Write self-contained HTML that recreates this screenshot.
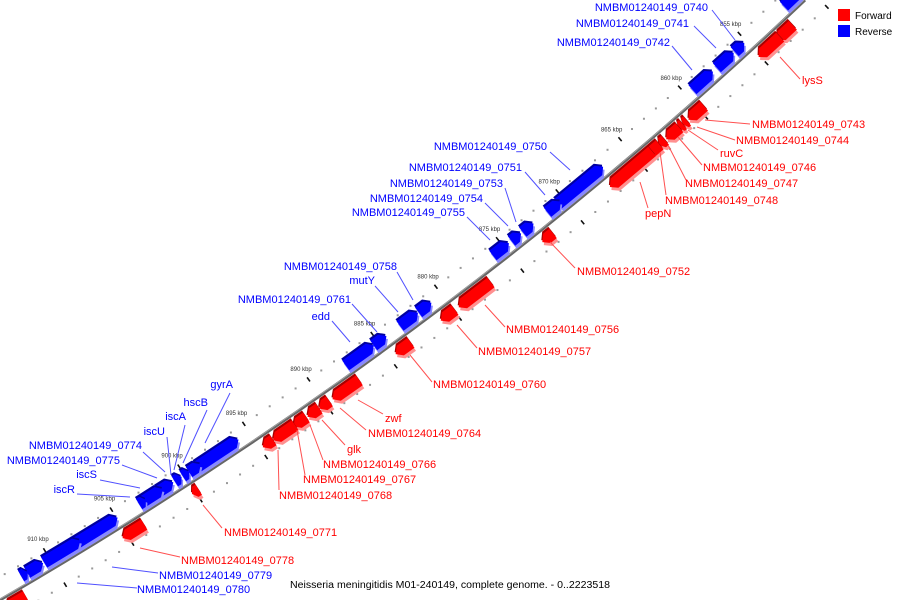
<!DOCTYPE html>
<html><head><meta charset="utf-8"><style>
html,body{margin:0;padding:0;background:#fff;width:900px;height:600px;overflow:hidden;}
svg{display:block;font-family:"Liberation Sans",sans-serif;overflow:hidden;}
</style></head><body>
<svg id="map" width="900" height="600" viewBox="0 0 900 600" xmlns="http://www.w3.org/2000/svg">
<g id="dots"></g>
<path id="backbone" d="M0,600 Q446,341 805,0" fill="none" stroke="#666" stroke-width="3"/>
<path d="M0,599 Q446,340 805,-1" fill="none" stroke="#aaa" stroke-width="0.8"/>
<g id="ticks"></g>
<g id="features"></g>
<g id="labels"></g>
<g>
<rect x="838" y="9" width="12" height="12" fill="#ff0000"/>
<text x="855" y="19" font-size="10">Forward</text>
<rect x="838" y="25" width="12" height="12" fill="#0000ff"/>
<text x="855" y="35" font-size="10">Reverse</text>
</g>
<text x="290" y="588" font-size="10" textLength="320" lengthAdjust="spacingAndGlyphs">Neisseria meningitidis M01-240149, complete genome. - 0..2223518</text>
</svg>
<script>
const tickKbp = [855,860,865,870,875,880,885,890,895,900,905,910];
const tickLabelX = [733,673,613,550,490,428,364,300,235,170,102,35];
const geneCenter = [851.1,855.56,856.75,858.64,868.67,870.8,872.97,873.96,875.23,881.33,882.58,884.85,886.44,897.45,899.2,899.88,900.47,901.38,902.35,903.1,906.54,909.08,911.1,911.9,
 852.9,854.2,860.28,861.21,861.55,862.23,863.12,863.82,865.65,872.38,878.33,880.48,883.96,888.43,890.11,890.95,891.98,893.2,894.43,900.0,904.56,913.3];
const geneLength = [1.5,0.8,1.4,1.7,3.6,1.1,0.9,0.8,1.3,1.0,1.4,1.0,2.2,3.2,0.9,0.5,0.5,1.1,1.5,0.5,3.2,2.7,1.2,0.5,
 1.3,1.8,1.3,0.35,0.35,1.1,0.5,1.0,3.4,0.9,2.6,1.1,1.2,2.1,0.8,0.9,1.0,1.7,0.8,0.5,1.6,1.5];
const geneStrand = [-1,-1,-1,-1,-1,-1,-1,-1,-1,-1,-1,-1,-1,-1,-1,-1,-1,-1,-1,-1,-1,-1,-1,-1,
 1,1,1,1,1,1,1,1,1,1,1,1,1,1,1,1,1,1,1,1,1,1];
const geneName = ["gene-0739","NMBM01240149_0740","NMBM01240149_0741","NMBM01240149_0742","NMBM01240149_0750","NMBM01240149_0751","NMBM01240149_0753","NMBM01240149_0754","NMBM01240149_0755","NMBM01240149_0758","mutY","NMBM01240149_0761","edd","gyrA","hscB","iscA","iscU","NMBM01240149_0774","NMBM01240149_0775","iscS","iscR","gene-0777","NMBM01240149_0779","NMBM01240149_0780",
 "gene-0737","lysS","NMBM01240149_0743","NMBM01240149_0744","ruvC","NMBM01240149_0746","NMBM01240149_0747","NMBM01240149_0748","pepN","NMBM01240149_0752","NMBM01240149_0756","NMBM01240149_0757","NMBM01240149_0760","zwf","NMBM01240149_0764","glk","NMBM01240149_0766","NMBM01240149_0767","NMBM01240149_0768","NMBM01240149_0771","NMBM01240149_0778","gene-0781"];

const NS="http://www.w3.org/2000/svg";
function mk(tag,attrs,parent){const e=document.createElementNS(NS,tag);for(const k in attrs)e.setAttribute(k,attrs[k]);parent.appendChild(e);return e;}
const P0=[0,600],C=[446,341],P2=[805,0];
function bx(t){return 2*(1-t)*t*C[0]+t*t*P2[0];}
function by(t){return (1-t)*(1-t)*P0[1]+2*(1-t)*t*C[1];}
function labelXof(k){
  const n=tickKbp.length;
  if(k<=tickKbp[0]){return tickLabelX[0]+(tickKbp[0]-k)*(tickLabelX[0]-tickLabelX[1])/5;}
  if(k>=tickKbp[n-1]){return tickLabelX[n-1]-(k-tickKbp[n-1])*(tickLabelX[n-2]-tickLabelX[n-1])/5;}
  for(let i=0;i<n-1;i++){if(k<=tickKbp[i+1]){const f=(k-tickKbp[i])/5;return tickLabelX[i]+f*(tickLabelX[i+1]-tickLabelX[i]);}}
}
function frame(k){
  const xb=labelXof(k)+20;
  let lo=-0.5,hi=1.5;
  for(let i=0;i<50;i++){const m=(lo+hi)/2;if(bx(m)<xb)lo=m;else hi=m;}
  const t=(lo+hi)/2;
  const dx=2*(1-t)*(C[0]-P0[0])+2*t*(P2[0]-C[0]);
  const dy=2*(1-t)*(C[1]-P0[1])+2*t*(P2[1]-C[1]);
  const L=Math.hypot(dx,dy);
  const T=[-dx/L,-dy/L];
  const N=[-T[1],T[0]];
  return {p:[bx(t),by(t)],T:T,N:N};
}
function pt(f,along,off){return [f.p[0]+f.T[0]*along+f.N[0]*off,f.p[1]+f.T[1]*along+f.N[1]*off];}

const dots=document.getElementById('dots'), ticks=document.getElementById('ticks');
for(let k=846;k<=918;k++){
  const f=frame(k);
  if(k%5===0){
    [20,-20].forEach(o=>{const a=pt(f,0,o-2.5),b=pt(f,0,o+2.5);
      const l=mk('line',{x1:a[0],y1:a[1],x2:b[0],y2:b[1],stroke:'#111','stroke-width':1.6},ticks);
      
      });
    const q=pt(f,0,33);
    const tx=mk('text',{x:q[0],y:q[1]+2,'font-size':6,'text-anchor':'middle',fill:'#333'},ticks);
    tx.textContent=k+' kbp';
    
    
  } else {
    [20,-20].forEach(o=>{const a=pt(f,0,o);
      const d=mk('rect',{x:a[0]-1,y:a[1]-1,width:2,height:2,fill:'#999'},dots);
      
      });
  }
}

const feats=document.getElementById('features');
function poly(points,dx,dy){return points.map(p=>(p[0]+dx).toFixed(1)+','+(p[1]+dy).toFixed(1)).join(' ');}
for(let i=0;i<geneCenter.length;i++){
  const s=geneStrand[i];
  const k1=geneCenter[i]-geneLength[i]/2,k2=geneCenter[i]+geneLength[i]/2;
  const fc=frame(geneCenter[i]);
  const f1=frame(k1),f2=frame(k2);
  const a1=(f1.p[0]-fc.p[0])*fc.T[0]+(f1.p[1]-fc.p[1])*fc.T[1];
  const a2=(f2.p[0]-fc.p[0])*fc.T[0]+(f2.p[1]-fc.p[1])*fc.T[1];
  const len=a2-a1;
  const h=Math.min(6,len*0.5);
  const sg=(s<0)?1:-1;
  const d1=4*sg,d2=16*sg,dm=10*sg;
  let pts;
  if(s>0){pts=[pt(fc,a1,d1),pt(fc,a1,d2),pt(fc,a2-h,d2),pt(fc,a2,dm),pt(fc,a2-h,d1)];}
  else{pts=[pt(fc,a2,d1),pt(fc,a2,d2),pt(fc,a1+h,d2),pt(fc,a1,dm),pt(fc,a1+h,d1)];}
  const main=s>0?'#ff0000':'#0000ff', dark=s>0?'#a80000':'#0000a0', light=s>0?'#ff9090':'#8888ff';
  const g=mk('g',{},feats);
  
  
  mk('polygon',{points:poly(pts,1.5,3),fill:light},g);
  mk('polygon',{points:poly(pts,-1,-2),fill:dark},g);
  mk('polygon',{points:poly(pts,0,0),fill:main},g);
}

const labelSpec=[
 ["NMBM01240149_0740",708,11,"end",-1,[712,10,735,40]],
 ["NMBM01240149_0741",689,27,"end",-1,[694,26,716,48]],
 ["NMBM01240149_0742",670,46,"end",-1,[672,46,692,70]],
 ["NMBM01240149_0750",547,150,"end",-1,[550,152,570,170]],
 ["NMBM01240149_0751",522,171,"end",-1,[525,172,545,195]],
 ["NMBM01240149_0753",503,187,"end",-1,[505,188,516,222]],
 ["NMBM01240149_0754",483,202,"end",-1,[485,203,508,226]],
 ["NMBM01240149_0755",465,216,"end",-1,[467,217,490,240]],
 ["NMBM01240149_0758",397,270,"end",-1,[397,272,413,300]],
 ["mutY",375,284,"end",-1,[375,286,398,312]],
 ["NMBM01240149_0761",351,303,"end",-1,[352,304,377,332]],
 ["edd",330,320,"end",-1,[332,321,350,342]],
 ["gyrA",233,388,"end",-1,[230,393,205,443]],
 ["hscB",208,406,"end",-1,[207,410,183,463]],
 ["iscA",186,420,"end",-1,[185,425,174,470]],
 ["iscU",165,435,"end",-1,[167,437,171,475]],
 ["NMBM01240149_0774",142,449,"end",-1,[143,452,165,472]],
 ["NMBM01240149_0775",120,464,"end",-1,[122,465,157,478]],
 ["iscS",97,478,"end",-1,[100,480,140,488]],
 ["iscR",75,493,"end",-1,[77,494,130,497]],
 ["NMBM01240149_0779",159,579,"start",-1,[112,567,158,573]],
 ["NMBM01240149_0780",137,593,"start",-1,[77,583,137,588]],
 ["lysS",802,84,"start",1,[780,57,800,79]],
 ["NMBM01240149_0743",752,128,"start",1,[705,120,750,124]],
 ["NMBM01240149_0744",736,144,"start",1,[697,127,735,140]],
 ["ruvC",720,157,"start",1,[688,130,718,150]],
 ["NMBM01240149_0746",703,171,"start",1,[678,137,702,165]],
 ["NMBM01240149_0747",685,187,"start",1,[668,145,686,180]],
 ["NMBM01240149_0748",665,204,"start",1,[660,152,666,195]],
 ["pepN",645,217,"start",1,[640,182,648,208]],
 ["NMBM01240149_0752",577,275,"start",1,[550,242,575,268]],
 ["NMBM01240149_0756",506,333,"start",1,[485,305,505,327]],
 ["NMBM01240149_0757",478,355,"start",1,[457,325,477,348]],
 ["NMBM01240149_0760",433,388,"start",1,[410,355,432,382]],
 ["zwf",385,422,"start",1,[358,400,383,414]],
 ["NMBM01240149_0764",368,437,"start",1,[340,408,366,430]],
 ["glk",347,453,"start",1,[322,420,345,445]],
 ["NMBM01240149_0766",323,468,"start",1,[310,425,323,460]],
 ["NMBM01240149_0767",303,483,"start",1,[297,430,305,475]],
 ["NMBM01240149_0768",279,499,"start",1,[278,450,279,490]],
 ["NMBM01240149_0771",224,536,"start",1,[203,505,222,528]],
 ["NMBM01240149_0778",181,564,"start",1,[140,548,180,557]]
];
const lab=document.getElementById('labels');
labelSpec.forEach(L=>{
  const col=L[4]>0?'#ff0000':'#0000ff', lc=L[4]>0?'#ff5050':'#5050ff';
  const ln=mk('line',{x1:L[5][0],y1:L[5][1],x2:L[5][2],y2:L[5][3],stroke:lc,'stroke-width':1},lab);
  
  
  const t=mk('text',{x:L[1],y:L[2],'font-size':11,'text-anchor':L[3],fill:col},lab);
  t.textContent=L[0];
  
  
});
</script>
</body></html>
